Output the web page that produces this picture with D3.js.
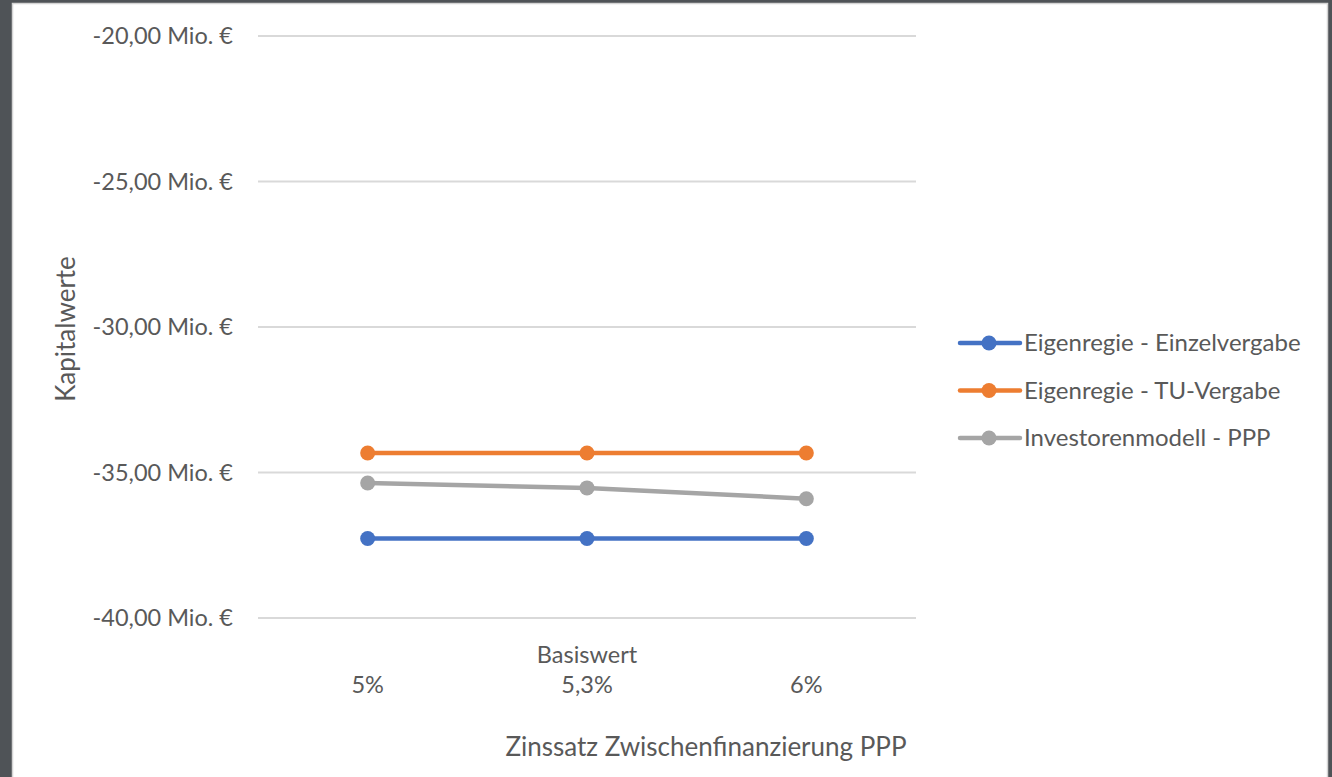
<!DOCTYPE html>
<html>
<head>
<meta charset="utf-8">
<script src="https://cdn.jsdelivr.net/npm/d3@7"></script>
<style>
  html, body { margin: 0; padding: 0; background: #4f5357; }
  svg { display: block; }
  text { font-family: Lato, "Open Sans", sans-serif; fill: #595959; }
</style>
</head>
<body>
<div id="chart-area"></div>
<script>
// Data
const categories = ["5%", "5,3%", "6%"];
const seriesNames = ["Eigenregie - Einzelvergabe", "Eigenregie - TU-Vergabe", "Investorenmodell - PPP"];
const einzelvergabe = [-37.27, -37.27, -37.27];
const tuVergabe = [-34.33, -34.33, -34.33];
const investorenPPP = [-35.36, -35.53, -35.9];
const yTicks = [-20, -25, -30, -35, -40];
const colors = ["#4472C4", "#ED7D31", "#A5A5A5"];

const seriesValues = [einzelvergabe, tuVergabe, investorenPPP];

const W = 1332, H = 777;
const svg = d3.select("#chart-area").append("svg")
    .attr("width", W)
    .attr("height", H);

// Chart area frame
svg.append("rect")
    .attr("x", 12.5).attr("y", 3.5)
    .attr("width", 1315).attr("height", H)
    .attr("fill", "#ffffff")
    .attr("stroke", "#d4d4d4")
    .attr("stroke-width", 1.5);

// Scales
const x = d3.scaleBand()
    .domain(categories)
    .range([258, 916]);

const y = d3.scaleLinear()
    .domain([-40, -20])
    .range([618, 36]);

// German number format with plain hyphen
const fmt = d => d.toFixed(2).replace(".", ",") + " Mio. €";

// Gridlines
svg.append("g")
    .selectAll("line")
    .data(yTicks)
    .enter().append("line")
    .attr("x1", 258).attr("x2", 916)
    .attr("y1", d => y(d)).attr("y2", d => y(d))
    .attr("stroke", "#d9d9d9")
    .attr("stroke-width", 2);

// Y axis labels
const yAxis = svg.append("g")
    .attr("transform", "translate(258,0)")
    .call(d3.axisLeft(y).tickValues(yTicks).tickFormat(fmt).tickSize(0).tickPadding(25));
yAxis.select(".domain").remove();
yAxis.selectAll("text")
    .attr("fill", "#595959")
    .style("font-family", "Lato, 'Open Sans', sans-serif")
    .style("font-size", "23.5px");

// X axis labels
const xAxis = svg.append("g")
    .attr("transform", "translate(0,618)")
    .call(d3.axisBottom(x).tickSize(0).tickPadding(58));
xAxis.select(".domain").remove();
xAxis.selectAll("text")
    .attr("fill", "#595959")
    .style("font-family", "Lato, 'Open Sans', sans-serif")
    .style("font-size", "23.5px");

// "Basiswert" marker above middle category
svg.append("text")
    .attr("x", x("5,3%") + x.bandwidth() / 2)
    .attr("y", 663)
    .attr("text-anchor", "middle")
    .style("font-size", "23.5px")
    .text("Basiswert");

// Axis titles
svg.append("text")
    .attr("x", 706)
    .attr("y", 756)
    .attr("text-anchor", "middle")
    .style("font-size", "26px")
    .text("Zinssatz Zwischenfinanzierung PPP");

svg.append("text")
    .attr("transform", "rotate(-90)")
    .attr("x", -329)
    .attr("y", 75)
    .attr("text-anchor", "middle")
    .style("font-size", "26px")
    .text("Kapitalwerte");

// Lines and markers
const line = d3.line()
    .x((d, i) => x(categories[i]) + x.bandwidth() / 2)
    .y(d => y(d));

seriesValues.forEach((vals, s) => {
    const g = svg.append("g");
    g.append("path")
        .datum(vals)
        .attr("d", line)
        .attr("fill", "none")
        .attr("stroke", colors[s])
        .attr("stroke-width", 4.5)
        .attr("stroke-linejoin", "round");
    g.selectAll("circle")
        .data(vals)
        .enter().append("circle")
        .attr("cx", (d, i) => x(categories[i]) + x.bandwidth() / 2)
        .attr("cy", d => y(d))
        .attr("r", 7.5)
        .attr("fill", colors[s]);
});

// Legend
const legend = svg.append("g")
    .attr("transform", "translate(960, 343)");

const entries = legend.selectAll("g")
    .data(seriesNames)
    .enter().append("g")
    .attr("transform", (d, i) => `translate(0, ${i * 47.5})`);

entries.append("line")
    .attr("x1", 0).attr("x2", 60)
    .attr("stroke", (d, i) => colors[i])
    .attr("stroke-width", 4.5)
    .attr("stroke-linecap", "round");

entries.append("circle")
    .attr("cx", 29)
    .attr("r", 7.5)
    .attr("fill", (d, i) => colors[i]);

entries.append("text")
    .attr("x", 64)
    .attr("dy", "0.35em")
    .style("font-size", "24px")
    .text(d => d);
</script>
</body>
</html>
